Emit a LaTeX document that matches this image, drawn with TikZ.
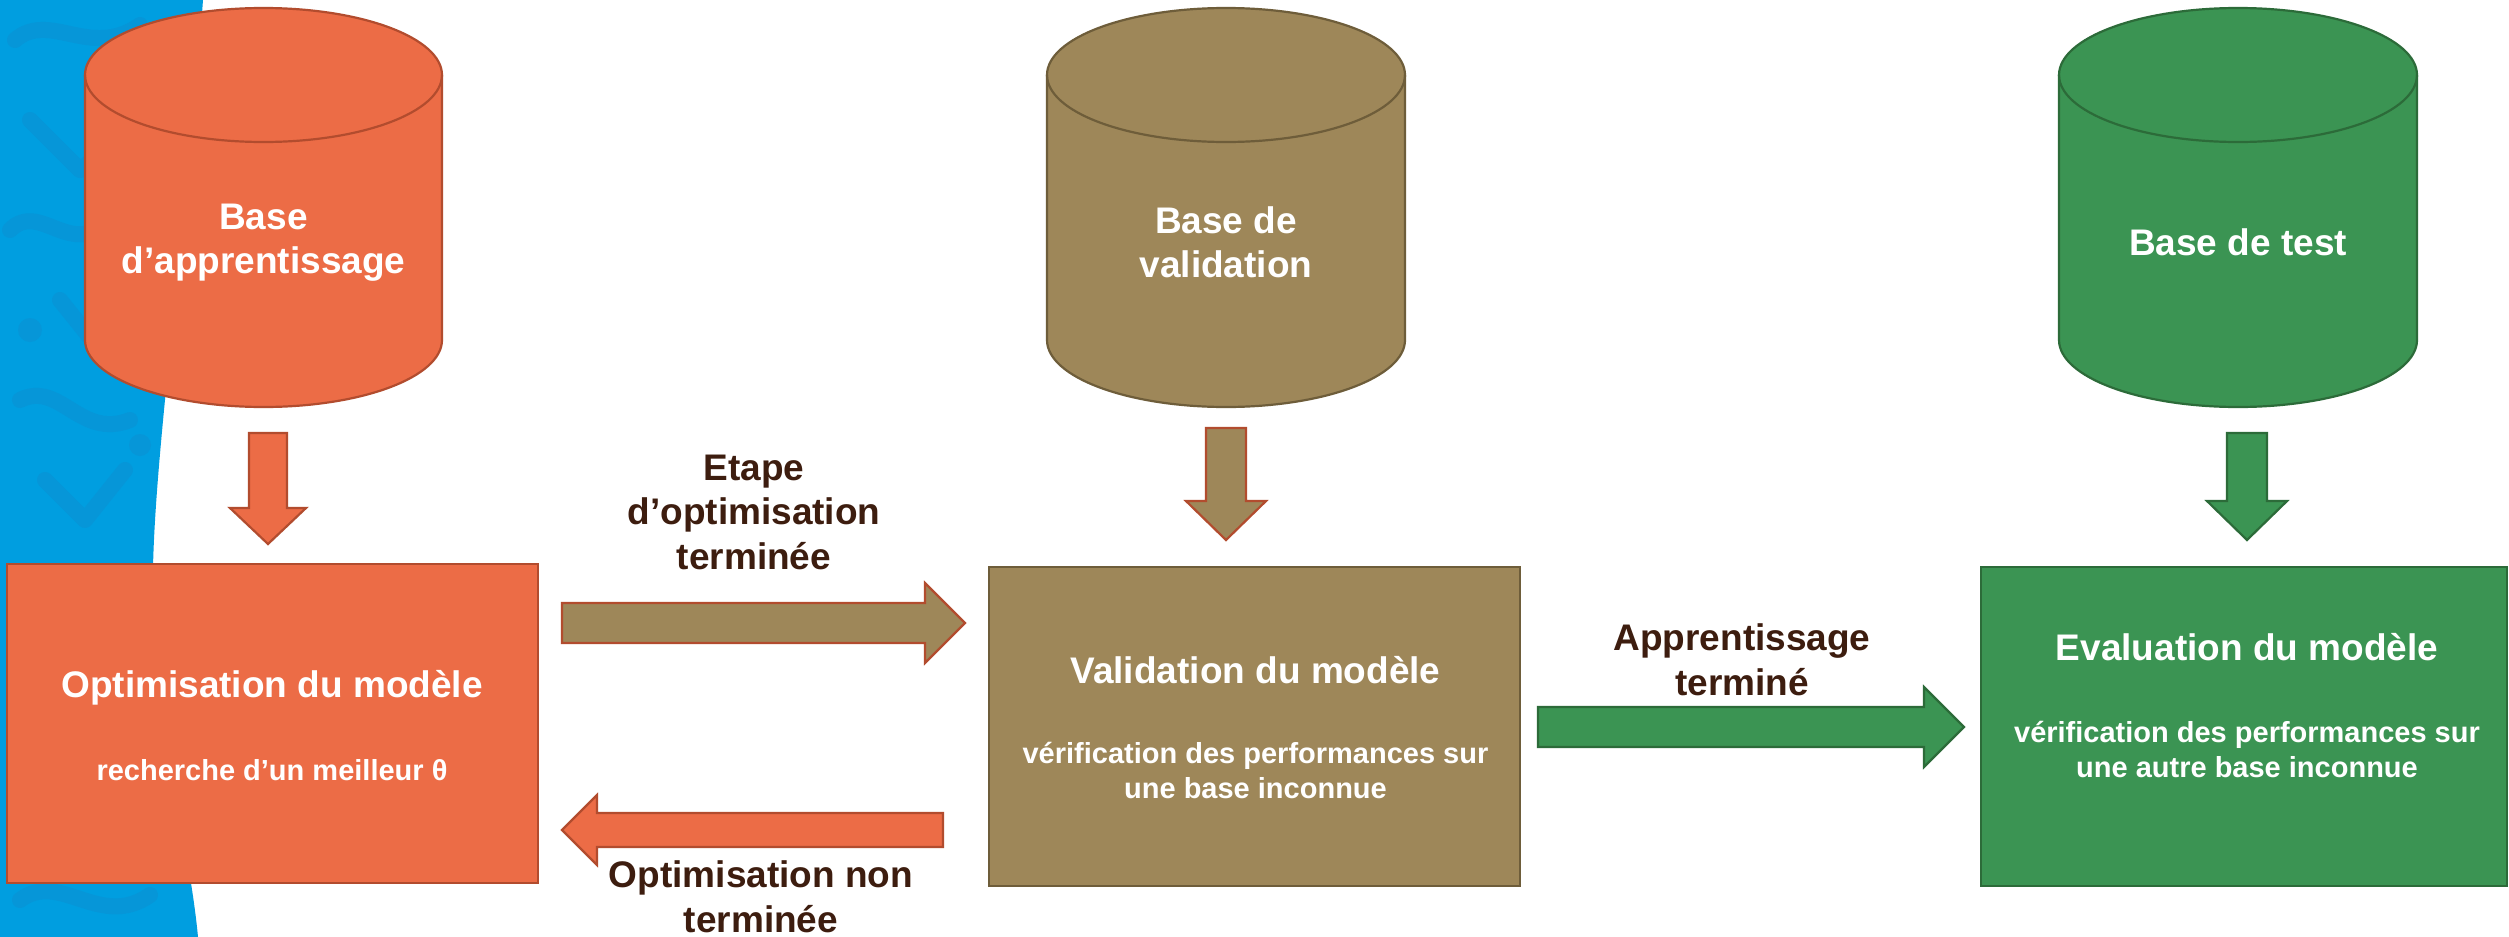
\documentclass[tikz,border=0pt]{standalone}
\usepackage{fontspec}
\setmainfont{Liberation Sans}
\usetikzlibrary{calc}

\definecolor{bgblue}{HTML}{009EE0}
\definecolor{bgblueshade}{HTML}{0696D8}
\definecolor{orfill}{HTML}{EC6C46}
\definecolor{ordraw}{HTML}{B24C2E}
\definecolor{brfill}{HTML}{9E8759}
\definecolor{brdraw}{HTML}{6E5D3A}
\definecolor{grfill}{HTML}{3B9453}
\definecolor{grdraw}{HTML}{2C6B39}
\definecolor{labelbrown}{HTML}{3D1D0F}

% Block arrow: #1 style, #2 tail coordinate, #3 tip coordinate,
% #4 shaft half width, #5 head half width, #6 head length
\newcommand\blockarrow[6]{%
  \coordinate (ba-h) at ($(#3)!#6!(#2)$);
  \draw[#1] ($(#2)!#4!90:(#3)$) -- ($(ba-h)!#4!90:(#3)$) -- ($(ba-h)!#5!90:(#3)$)
    -- (#3) -- ($(ba-h)!#5!-90:(#3)$) -- ($(ba-h)!#4!-90:(#3)$) -- ($(#2)!#4!-90:(#3)$) -- cycle;
}

% Database cylinder: #1 centre x, #2 half width, #3 fill, #4 outline
\newcommand\dbcylinder[4]{%
  \pgfmathsetmacro\cyL{#1-#2}\pgfmathsetmacro\cyR{#1+#2}%
  \pgfmathsetmacro\cyA{#1-0.5523*#2}\pgfmathsetmacro\cyB{#1+0.5523*#2}%
  \path[fill=#3,draw=#4,outline] (\cyL,75) -- (\cyL,340)
    .. controls (\cyL,377) and (\cyA,407) .. (#1,407)
    .. controls (\cyB,407) and (\cyR,377) .. (\cyR,340) -- (\cyR,75)
    .. controls (\cyR,38) and (\cyB,8) .. (#1,8)
    .. controls (\cyA,8) and (\cyL,38) .. cycle;
  \draw[#4,outline] (\cyL,75) .. controls (\cyL,112) and (\cyA,142) .. (#1,142)
    .. controls (\cyB,142) and (\cyR,112) .. (\cyR,75);
}

\begin{document}
\begin{tikzpicture}[x=1pt,y=-1pt,
  outline/.style={line width=2.2pt,line join=miter},
  stagebox/.style={rectangle,outline,inner sep=0pt},
  boxtitle/.style={anchor=base,inner sep=0pt,text=white,font=\fontsize{37pt}{44.5pt}\selectfont\bfseries},
  boxsub/.style={anchor=base,inner sep=0pt,align=center,text=white,font=\fontsize{29pt}{35pt}\selectfont\bfseries},
  dblabel/.style={anchor=base,inner sep=0pt,align=center,text=white,font=\fontsize{37pt}{44pt}\selectfont\bfseries},
  steplabel/.style={anchor=base,inner sep=0pt,align=center,text=labelbrown,font=\fontsize{37pt}{44.5pt}\selectfont\bfseries},
  patstroke/.style={bgblueshade,line width=16pt,line cap=round,line join=round}]

\useasboundingbox (0,0) rectangle (2509,937);
\fill[white] (0,0) rectangle (2509,937);

% blue side band with its faint motif
\fill[bgblue] (0,0) -- (203,0) .. controls (185,250) and (150,480) .. (153,600)
  .. controls (156,720) and (190,850) .. (198,937) -- (0,937) -- cycle;
\begin{scope}
  \clip (0,0) -- (203,0) .. controls (185,250) and (150,480) .. (153,600)
    .. controls (156,720) and (190,850) .. (198,937) -- (0,937) -- cycle;
  \draw[patstroke] (15,40) .. controls (50,10) and (90,60) .. (140,25);
  \draw[patstroke] (30,120) -- (80,170) -- (130,130);
  \draw[patstroke] (10,230) .. controls (40,200) and (70,260) .. (110,220);
  \draw[patstroke] (60,300) -- (100,350) -- (150,310);
  \draw[patstroke] (20,400) .. controls (60,380) and (80,440) .. (130,420);
  \draw[patstroke] (45,480) -- (85,520) -- (125,470);
  \fill[bgblueshade] (150,270) circle (13);
  \fill[bgblueshade] (30,330) circle (12);
  \fill[bgblueshade] (140,445) circle (11);
  \draw[patstroke] (20,900) .. controls (60,870) and (100,930) .. (150,895);
  \draw[patstroke] (60,830) -- (100,860);
\end{scope}

% data sources
\dbcylinder{263.5}{178.5}{orfill}{ordraw}
\dbcylinder{1226}{179}{brfill}{brdraw}
\dbcylinder{2238}{179}{grfill}{grdraw}
\node[dblabel] (db-train) at (263.5,273) {Base\\d’apprentissage};
\node[dblabel] (db-valid) at (1226,277) {Base de\\validation};
\node[dblabel] (db-test) at (2238,255) {Base de test};

% processing stages
\node[stagebox,fill=orfill,draw=ordraw,minimum width=531pt,minimum height=319pt] (optim) at (272.5,723.5) {};
\node[stagebox,fill=brfill,draw=brdraw,minimum width=531pt,minimum height=319pt] (valid) at (1254.5,726.5) {};
\node[stagebox,fill=grfill,draw=grdraw,minimum width=526pt,minimum height=319pt] (evalu) at (2244,726.5) {};

\node[boxtitle] (optim-title) at (272,697) {Optimisation du modèle};
\node[boxsub] (optim-sub) at (272,780) {recherche d’un meilleur θ};
\node[boxtitle] (valid-title) at (1255.5,683) {Validation du modèle};
\node[boxsub] (valid-sub) at (1255.5,798) {vérification des performances sur\\une base inconnue};
\node[boxtitle] (evalu-title) at (2247,660) {Evaluation du modèle};
\node[boxsub] (evalu-sub) at (2247,777) {vérification des performances sur\\une autre base inconnue};

% feeding arrows
\coordinate (feed1-from) at (268,433);  \coordinate (feed1-to) at (268,544);
\coordinate (feed2-from) at (1226,428); \coordinate (feed2-to) at (1226,540);
\coordinate (feed3-from) at (2247,433); \coordinate (feed3-to) at (2247,540);
\blockarrow{fill=orfill,draw=ordraw,outline}{feed1-from}{feed1-to}{19pt}{38pt}{36pt}
\blockarrow{fill=brfill,draw=ordraw,outline}{feed2-from}{feed2-to}{20pt}{40pt}{39pt}
\blockarrow{fill=grfill,draw=grdraw,outline}{feed3-from}{feed3-to}{20pt}{40pt}{39pt}

% transitions between stages
\coordinate (done-from) at (562,623);  \coordinate (done-to) at (965,623);
\coordinate (again-from) at (943,830); \coordinate (again-to) at (562,830);
\coordinate (test-from) at (1538,727); \coordinate (test-to) at (1964,727);
\blockarrow{fill=brfill,draw=ordraw,outline}{done-from}{done-to}{20pt}{40pt}{40pt}
\blockarrow{fill=orfill,draw=ordraw,outline}{again-from}{again-to}{17pt}{35pt}{35pt}
\blockarrow{fill=grfill,draw=grdraw,outline}{test-from}{test-to}{20pt}{40pt}{40pt}

\node[steplabel] (done-label) at (754,569) {Etape\\d’optimisation\\terminée};
\node[steplabel] (again-label) at (761,932) {Optimisation non\\terminée};
\node[steplabel] (test-label) at (1742,695) {Apprentissage\\terminé};

\end{tikzpicture}
\end{document}
